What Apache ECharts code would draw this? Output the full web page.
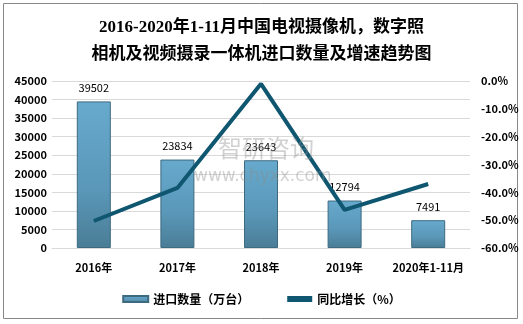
<!DOCTYPE html>
<html><head><meta charset="utf-8">
<script src="https://cdn.jsdelivr.net/npm/echarts@6/dist/echarts.min.js"></script>
<style>html,body{margin:0;padding:0;background:#fff}#c{width:523px;height:324px}</style>
</head><body><div id="c"></div>
<script>
const categories = ['2016年','2017年','2018年','2019年','2020年1-11月'];
const importQty = [39502, 23834, 23643, 12794, 7491];
const growth = [-50.3, -38.4, -1.0, -46.3, -37.0];
const titleText = '2016-2020年1-11月中国电视摄像机，数字照\n相机及视频摄录一体机进口数量及增速趋势图';

const chart = echarts.init(document.getElementById('c'));
const lab = {color:'#000', fontWeight:'bold', fontSize:11, fontFamily:'Noto Sans CJK SC'};
chart.setOption({
  backgroundColor:'#fff',
  animation:false,
  title:{text:titleText,left:'center',top:9,
    textStyle:{fontFamily:'Liberation Serif, Noto Sans CJK SC',fontWeight:'bold',fontSize:17,lineHeight:27,color:'#000'}},
  graphic:[
    {type:'rect',shape:{x:3.5,y:3.5,width:514,height:315},style:{fill:null,stroke:'#888',lineWidth:1},silent:true,z:-1},
    {type:'text',left:218,top:136,style:{text:'智研咨询',fill:'rgba(140,140,140,0.4)',font:'24px Noto Sans CJK SC'},z:100},
    {type:'text',left:194,top:168,style:{text:'www.chyxx.com',fill:'rgba(140,140,140,0.4)',font:'17px DejaVu Sans'},z:100}
  ],
  legend:{bottom:14,left:'center',itemGap:38,itemWidth:25,itemHeight:6,
    textStyle:{color:'#000',fontWeight:'bold',fontSize:12,fontFamily:'Noto Sans CJK SC'},
    data:[{name:'进口数量（万台）',icon:'rect'},{name:'同比增长（%）',icon:'rect'}]},
  grid:{left:52,right:53,top:81,bottom:76},
  xAxis:{type:'category',data:categories,
    axisLine:{lineStyle:{color:'#d9d9d9'}},axisTick:{show:false},
    axisLabel:Object.assign({margin:14,interval:0},lab)},
  yAxis:[
    {type:'value',min:0,max:45000,interval:5000,
      axisLabel:Object.assign({margin:5,formatter:v=>String(v)},lab),
      splitLine:{lineStyle:{color:'#d9d9d9'}},axisLine:{show:false},axisTick:{show:false}},
    {type:'value',min:-60,max:0,interval:10,position:'right',
      axisLabel:Object.assign({margin:11,formatter:v=>v.toFixed(1)+'%'},lab),
      splitLine:{show:false},axisLine:{show:false},axisTick:{show:false}}
  ],
  series:[
    {name:'进口数量（万台）',type:'bar',data:importQty,barWidth:34,
      itemStyle:{color:new echarts.graphic.LinearGradient(0,0,0,1,[{offset:0,color:'#67aacd'},{offset:0.6,color:'#5a97b8'},{offset:1,color:'#4a7d96'}]),
        borderColor:'#3e6a80',borderWidth:1},
      label:{show:true,position:'top',distance:8,color:'#000',fontSize:11,fontFamily:'Noto Sans CJK SC'}},
    {name:'同比增长（%）',type:'line',yAxisIndex:1,data:growth,symbol:'none',
      lineStyle:{color:'#0f5670',width:4},itemStyle:{color:'#0f5670'}}
  ]
});
</script></body></html>
